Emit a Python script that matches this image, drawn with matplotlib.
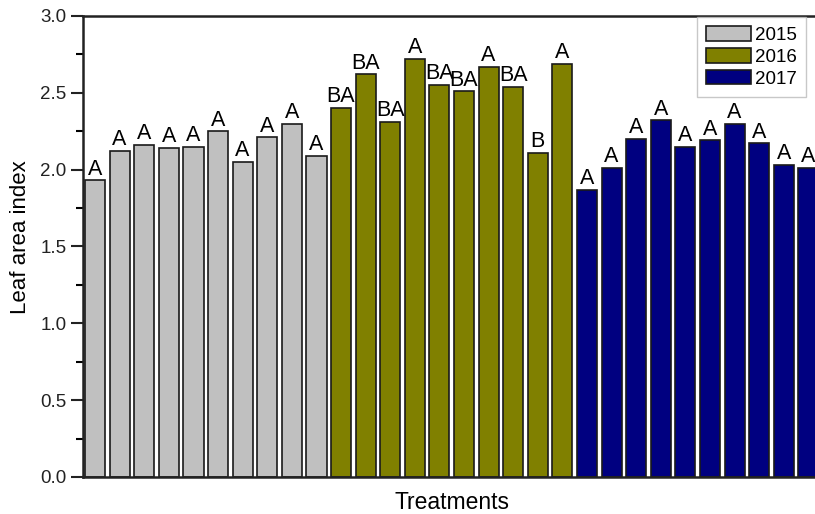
import numpy as np
import matplotlib
matplotlib.use("Agg")
import matplotlib.pyplot as plt
from matplotlib.patches import Patch

plt.rcParams['font.family'] = ['Liberation Sans', 'DejaVu Sans']

years = ["2015", "2016", "2017"]
lai_2015 = [1.93, 2.12, 2.16, 2.14, 2.15, 2.25, 2.05, 2.21, 2.30, 2.09]
lai_2016 = [2.40, 2.62, 2.31, 2.72, 2.55, 2.51, 2.67, 2.54, 2.11, 2.69]
lai_2017 = [1.87, 2.01, 2.20, 2.32, 2.15, 2.19, 2.30, 2.17, 2.03, 2.01]
letters_2015 = ["A"] * 10
letters_2016 = ["BA", "BA", "BA", "A", "BA", "BA", "A", "BA", "B", "A"]
letters_2017 = ["A"] * 10
colors = ["#c0c0c0", "#808000", "#000080"]

values = lai_2015 + lai_2016 + lai_2017
letters = letters_2015 + letters_2016 + letters_2017
bar_colors = [colors[0]] * 10 + [colors[1]] * 10 + [colors[2]] * 10
x = np.arange(len(values))

fig = plt.figure(figsize=(8.15, 5.14), dpi=100)
ax = fig.add_axes([0.1018, 0.072, 0.9055, 0.897])

bars = ax.bar(x, values, width=0.82, color=bar_colors, edgecolor="#1a1a1a", linewidth=1.2)
for xi, v, lab in zip(x, values, letters):
    ax.annotate(lab, (xi, v), xytext=(0, 0.5), textcoords="offset points",
                ha="center", va="bottom", fontsize=15.5)

ax.set_xlim(-0.49, 29.51)
ax.set_ylim(0, 3.0)
ax.set_yticks(np.arange(0, 3.01, 0.5))
ax.set_yticks(np.arange(0.25, 3.0, 0.5), minor=True)
ax.set_yticklabels(["%.1f" % t for t in np.arange(0, 3.01, 0.5)])
ax.set_xticks([])
ax.tick_params(axis="y", which="major", direction="out", length=9, width=1.5, labelsize=13.5,
               colors="#222222", pad=3)
ax.tick_params(axis="y", which="minor", direction="out", length=5, width=1.5)
for s in ax.spines.values():
    s.set_linewidth(1.8)
    s.set_color("#222222")

ax.set_ylabel("Leaf area index", fontsize=16)
ax.yaxis.set_label_coords(-0.071, 0.52)
ax.set_xlabel("Treatments", fontsize=16.5, labelpad=10)

handles = [Patch(facecolor=c, edgecolor="#1a1a1a", linewidth=1.2) for c in colors]
leg = fig.legend(handles, years, loc="upper left", bbox_to_anchor=(697 / 815, 497 / 514),
                 fontsize=13.5, frameon=True, fancybox=False, borderaxespad=0,
                 handlelength=2.4, handleheight=0.8, labelspacing=0.22, handletextpad=0.2,
                 borderpad=0.5)
leg.get_frame().set_edgecolor("#bbbbbb")
leg.get_frame().set_linewidth(1.0)

fig.savefig("out.png", dpi=100)
